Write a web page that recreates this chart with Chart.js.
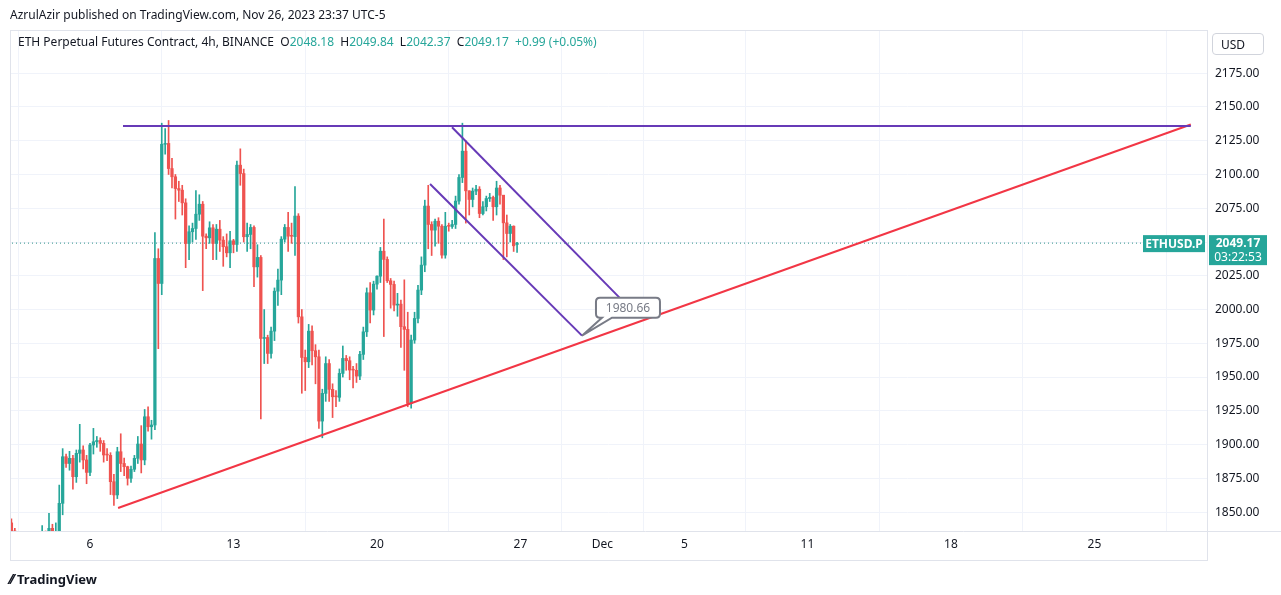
<!DOCTYPE html>
<html><head><meta charset="utf-8">
<script src="https://cdn.jsdelivr.net/npm/chart.js@4.4.0/dist/chart.umd.min.js"></script>
<style>
html,body{margin:0;padding:0;background:#fff;font-family:"Noto Sans",Roboto,sans-serif;}
#wrap{position:relative;width:1281px;height:595px;overflow:hidden;}
canvas{position:absolute;left:0;top:0;}
.t{position:absolute;white-space:nowrap;font-size:12px;color:#131722;}
</style></head><body>
<div id="wrap">
<canvas id="c" width="1281" height="595"></canvas>
<div class="t" style="left:10px;top:6px;">AzrulAzir published on TradingView.com, Nov 26, 2023 23:37 UTC-5</div>
<div class="t" style="left:18px;top:33px;">ETH Perpetual Futures Contract, 4h, BINANCE&nbsp; O<span style="color:#26a69a">2048.18</span>&nbsp; H<span style="color:#26a69a">2049.84</span>&nbsp; L<span style="color:#26a69a">2042.37</span>&nbsp; C<span style="color:#26a69a">2049.17</span>&nbsp; <span style="color:#26a69a">+0.99 (+0.05%)</span></div>
<div class="t" style="left:1212px;top:33px;width:52px;height:22px;border:1px solid #d1d4dc;border-radius:4px;line-height:22px;padding-left:8px;box-sizing:border-box;">USD</div>
<div class="t" style="left:10px;top:569px;font-size:13px;font-weight:bold;"><span style="font-size:14px">⁄⁄</span> TradingView</div>
</div>
<script>
const opens=[1842,1836,1830,1825,1822,1828,1824,1826,1820,1826,1834,1830,1838,1834,
1835.5,1856.5,1891,1886,1889.8,1876.2,1893.5,1896,1888.6,1879.4,1899.7,1902.1,1903,1900.9,1892.3,1892,1872.5,1862.7,1894.7,1886,1883.6,1875,1881.7,1889.8,1900.4,1888.6,1920.6,1913.2,1914.5,2037.8,2019.3,2122.4,2123,2104.4,2098.3,
2089.6,2088.4,2079,2048.9,2057.6,2060,2070.6,2078,2054.3,2053.1,2060.5,2048.9,2059.5,2051.4,2046.5,2042,2050.9,2048.2,2106.9,2100.7,2053.9,2055.6,2060.8,2031.6,2038.6,1978.6,1979.3,1967.5,1984,2013.6,2021.8,2052.1,2060.8,2054.3,2054,2069.2,1994.6,1964.5,1961.3,1984,1969.5,1965,1917.4,1937.9,1960,1940.9,1935.4,1935,1952.7,1963.8,
1962.1,1955.2,1955,1950.7,1966.8,1983.5,2012.4,1999.6,2018.8,2024.7,2043.2,2037.1,2021.3,2018.6,2003.3,2004,1987.3,1985.3,1930.5,1977.4,1993.4,2014.4,2032.9,2076.6,2063,2058.8,2065.4,2061.7,2040.3,2061.7,2061.5,2063,2080.3,2097.8,2117.3,2087.9,2081.5,2087.7,2089.1,2071.1,2076.1,2082.2,2083,2076.1,2090,2084.7,2064.2,2056.3,2061.7,2048.18];
const closes=[1836,1830,1825,1822,1828,1824,1826,1820,1826,1834,1830,1838,1834,1835.5,
1856.5,1891,1886,1889.8,1876.2,1893.5,1896,1888.6,1879.4,1899.7,1902.1,1903,1900.9,1892.3,1892,1872.5,1862.7,1894.7,1886,1883.6,1875,1881.7,1889.8,1900.4,1888.6,1920.6,1913.2,1914.5,2037.8,2019.3,2122.4,2123,2104.4,2098.3,2089.6,
2088.4,2079,2048.9,2057.6,2060,2070.6,2078,2054.3,2053.1,2060.5,2048.9,2059.5,2051.4,2046.5,2042,2050.9,2048.2,2106.9,2100.7,2053.9,2055.6,2060.8,2031.6,2038.6,1978.6,1979.3,1967.5,1984,2013.6,2021.8,2052.1,2060.8,2054.3,2054,2069.2,1994.6,1964.5,1961.3,1984,1969.5,1965,1917.4,1937.9,1960,1940.9,1935.4,1935,1952.7,1963.8,1962.1,
1955.2,1955,1950.7,1966.8,1983.5,2012.4,1999.6,2018.8,2024.7,2043.2,2037.1,2021.3,2018.6,2003.3,2004,1987.3,1985.3,1930.5,1977.4,1993.4,2014.4,2032.9,2076.6,2063,2058.8,2065.4,2061.7,2040.3,2061.7,2061.5,2063,2080.3,2097.8,2117.3,2087.9,2081.5,2087.7,2089.1,2071.1,2076.1,2082.2,2083,2076.1,2090,2084.7,2064.2,2056.3,2061.7,2047.2,2049.17];
const highs=[1845,1838,1832,1827,1830,1830,1828,1828,1828,1840,1836,1849,1841,1842,
1870,1897,1893,1895,1892,1896,1915,1899,1892,1901,1912,1906,1905,1903,1897,1894,1878,1898,1908,1890,1884,1884,1892,1906,1914,1926,1928,1918,2057,2045,2138,2134,2140,2112,2100,
2095,2092,2082,2062,2064,2088,2085,2080,2056,2065,2063,2063,2066,2054,2056,2058,2052,2110,2119,2104,2064,2063,2062,2048,2040,2000,1981,1987,2016,2030,2054,2063,2072,2064,2091,2071,2000,1970,1989,1988,1974,1970,1941,1965,1963,1945,1940,1956,1973,1966,
1965,1958,1960,1969,1987,2016,2020,2021,2025,2046,2067,2039,2023,2021,2012,2007,2022,1998,1981,1998,2018,2039,2081,2092,2065,2067,2068,2063,2072,2064,2066,2084,2100,2138,2125,2088,2090,2092,2091,2080,2084,2086,2084,2095,2092,2081,2070,2063,2062,2049.84];
const lows=[1830,1826,1820,1818,1820,1820,1821,1816,1818,1824,1828,1828,1831,1832,
1833,1848,1883,1881,1867,1872,1887,1882,1871,1877,1893,1898,1895,1887,1888,1863,1855,1860,1880,1877,1870,1872,1880,1886,1879,1885,1910,1904,1911,1971,2011,2115,2100,2090,2067,
2080,2070,2031,2037,2050,2052,2066,2014,2045,2049,2037,2037,2043,2032,2039,2031,2042,2043,2092,2050,2043,2045,2017,2024,1919,1960,1960,1964,1977,2003,2011,2050,2043,2049,2040,1990,1938,1940,1957,1959,1945,1912,1905,1932,1932,1920,1928,1932,1950,1955,
1948,1942,1946,1948,1963,1980,1990,1996,2015,2020,1980,2020,2001,1999,1995,1972,1955,1928,1927,1975,1990,2011,2028,2045,2040,2047,2049,2038,2038,2058,2060,2060,2078,2094,2064,2070,2076,2085,2068,2070,2073,2080,2066,2070,2078,2037,2039,2050,2043,2042.37];
const firstDay=2.167, stepDay=1/6;      // 4h candles, day-of-November units (Dec 1 = 31)
const tickDays=[6,13,20,27,31,35,41,48,55];
const tickLabels=['6','13','20','27','Dec','5','11','18','25'];
const yTicks=[1850,1875,1900,1925,1950,1975,2000,2025,2050,2075,2100,2125,2150,2175];
const lastPrice=2049.17;
const resistance=[{x:7.61,y:2136},{x:59.7,y:2136}];
const support=[{x:7.37,y:1853},{x:59.7,y:2137}];
const chanUpper=[{x:23.66,y:2135},{x:31.95,y:2007}];
const chanLower=[{x:22.59,y:2093},{x:30.0,y:1980.66}];
const calloutPrice=1980.66, calloutDay=30.0;

const G='#26a69a', R='#ef5350';
const days=opens.map((_,i)=>firstDay+i*stepDay);
const cols=opens.map((o,i)=>closes[i]>=o?G:R);
const wick=days.map((d,i)=>({x:d,y:[lows[i],highs[i]]}));
const body=days.map((d,i)=>{let a=opens[i],b=closes[i];if(Math.abs(a-b)<0.6){b=a+0.6;}return {x:d,y:[a,b]};});

const overlay={id:'ov',afterDatasetsDraw(ch){
  const {ctx,scales:{x,y},chartArea:ca}=ch;
  ctx.save();
  const px=x.getPixelForValue(calloutDay), py=y.getPixelForValue(calloutPrice);
  ctx.strokeStyle='#787b86';ctx.fillStyle='#fff';ctx.lineWidth=2;
  const bx=px+14,by=py-38,bw=64,bh=20;
  ctx.beginPath();ctx.moveTo(bx+4,by);ctx.lineTo(bx+bw-4,by);ctx.quadraticCurveTo(bx+bw,by,bx+bw,by+4);
  ctx.lineTo(bx+bw,by+bh-4);ctx.quadraticCurveTo(bx+bw,by+bh,bx+bw-4,by+bh);
  ctx.lineTo(bx+16,by+bh);ctx.lineTo(px,py);ctx.lineTo(bx+6,by+bh);ctx.lineTo(bx+4,by+bh);
  ctx.quadraticCurveTo(bx,by+bh,bx,by+bh-4);ctx.lineTo(bx,by+4);ctx.quadraticCurveTo(bx,by,bx+4,by);
  ctx.closePath();ctx.fill();ctx.stroke();
  ctx.fillStyle='#787b86';ctx.font='12px "Noto Sans"';ctx.textAlign='center';ctx.textBaseline='middle';
  ctx.fillText(calloutPrice.toFixed(2),bx+bw/2,by+bh/2+1);
  const ly=y.getPixelForValue(lastPrice);
  ctx.fillStyle=G;
  ctx.fillRect(ca.right-64,ly-8,62,17);
  ctx.fillRect(ca.right+2,ly-8,58,30);
  ctx.fillStyle='#fff';ctx.font='bold 12px "Noto Sans"';
  ctx.fillText('ETHUSD.P',ca.right-33,ly+1);
  ctx.fillText(lastPrice.toFixed(2),ca.right+31,ly);
  ctx.font='12px "Noto Sans"';ctx.fillText('03:22:53',ca.right+31,ly+14);
  ctx.strokeStyle='#e0e3eb';ctx.lineWidth=1;
  ctx.strokeRect(ca.left+0.5,ca.top+0.5,ca.right-ca.left,ca.bottom-ca.top+29);
  ctx.beginPath();ctx.moveTo(ca.left,ca.bottom+0.5);ctx.lineTo(ca.right+74,ca.bottom+0.5);ctx.moveTo(ca.right+0.5,ca.top);ctx.lineTo(ca.right+0.5,ca.bottom+29);ctx.stroke();
  ctx.restore();
}};

new Chart(document.getElementById('c'),{
  type:'bar',
  data:{datasets:[
    {data:wick,backgroundColor:cols,barThickness:1,grouped:false,order:3},
    {data:body,backgroundColor:cols,barThickness:2.6,grouped:false,order:2},
    {type:'line',data:[{x:2,y:lastPrice},{x:61,y:lastPrice}],borderColor:'#2a8f86',borderWidth:1,borderDash:[1,3],pointRadius:0,order:4},
    {type:'line',data:resistance,borderColor:'#673ab7',borderWidth:2,pointRadius:0,order:1},
    {type:'line',data:support,borderColor:'#f23645',borderWidth:2,pointRadius:0,order:1},
    {type:'line',data:chanUpper,borderColor:'#673ab7',borderWidth:2,pointRadius:0,order:1},
    {type:'line',data:chanLower,borderColor:'#673ab7',borderWidth:2,pointRadius:0,order:1}
  ]},
  options:{
    responsive:false,animation:false,
    layout:{padding:{left:10,top:30,right:0,bottom:35}},
    plugins:{legend:{display:false},tooltip:{enabled:false}},
    scales:{
      x:{type:'linear',min:2.098,max:60.49,offset:false,
        afterBuildTicks(s){s.ticks=tickDays.map(v=>({value:v}));},
        afterFit(s){s.height=29;},
        ticks:{autoSkip:false,maxRotation:0,color:'#131722',font:{family:'Noto Sans',size:12},padding:6,
          callback:(v)=>tickLabels[tickDays.indexOf(v)]},
        grid:{color:'#f0f3fa',drawTicks:false},border:{display:false}},
      y:{position:'right',min:1836,max:2207,
        afterBuildTicks(s){s.ticks=yTicks.map(v=>({value:v}));},
        afterFit(s){s.width=74;},
        ticks:{color:'#131722',font:{family:'Noto Sans',size:12},padding:8,callback:v=>v.toFixed(2)},
        grid:{color:'#f0f3fa',drawTicks:false},border:{display:false}}
    }
  },
  plugins:[overlay]
});
</script>
</body></html>
